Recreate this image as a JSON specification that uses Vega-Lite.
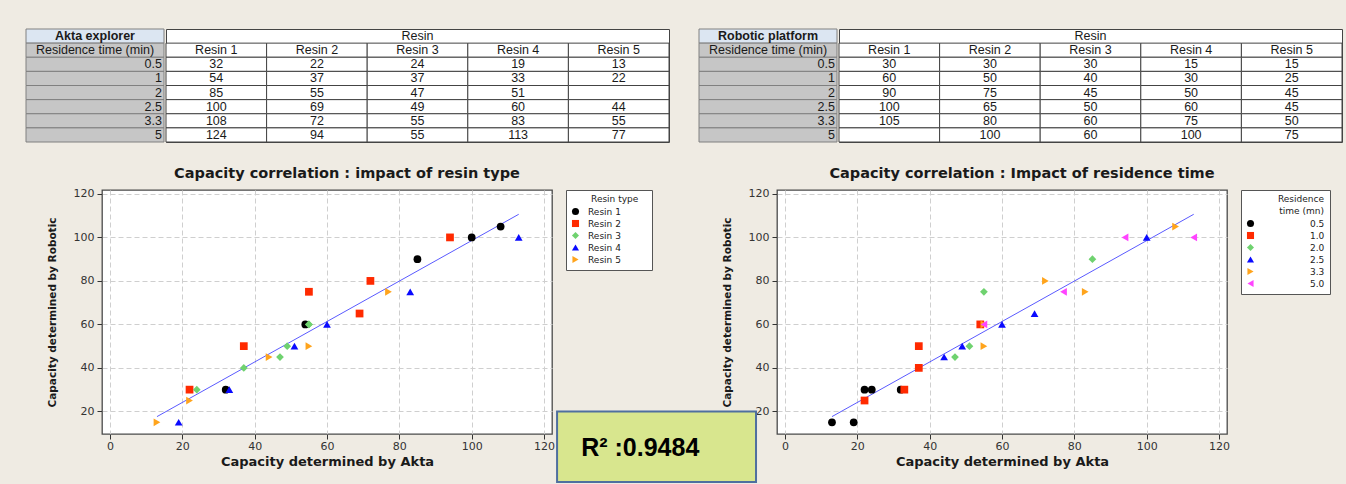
{
  "$schema": "https://vega.github.io/schema/vega-lite/v6.json",
  "background": "#efebe3",
  "padding": {"left": 25, "top": 28, "right": 5, "bottom": 2},
  "config": {
    "view": {"stroke": null},
    "font": "DejaVu Sans",
    "axis": {"labelFont": "DejaVu Sans", "labelFontSize": 11, "labelColor": "#333333", "tickColor": "#333333", "tickSize": 5, "domain": false, "gridColor": "#cfcfcf", "gridDash": [5, 3], "titleFont": "DejaVu Sans", "titleFontWeight": "bold", "titleColor": "#1a1a1a"},
    "axisX": {"titleFontSize": 13, "labelPadding": 1, "titlePadding": 4},
    "axisY": {"titleFontSize": 10.5, "labelPadding": 3, "titlePadding": 16},
    "legend": {"labelFont": "DejaVu Sans", "titleFont": "DejaVu Sans", "labelFontSize": 9, "titleFontSize": 9, "titleFontWeight": "normal", "fillColor": "white", "strokeColor": "#555555", "padding": 5, "offset": 14, "rowPadding": 2, "titlePadding": 3, "symbolSize": 50, "labelColor": "#222222", "titleColor": "#222222"},
    "text": {"font": "Liberation Sans", "fontSize": 12.5, "color": "#1a1a1a"}
  },
  "resolve": {"scale": {"color": "independent", "shape": "independent"}, "legend": {"color": "independent", "shape": "independent"}},
  "datasets": {
    "cap": [
      {"resin": "Resin 1", "rt": "0.5", "akta": 32, "robotic": 30},
      {"resin": "Resin 1", "rt": "1", "akta": 54, "robotic": 60},
      {"resin": "Resin 1", "rt": "2", "akta": 85, "robotic": 90},
      {"resin": "Resin 1", "rt": "2.5", "akta": 100, "robotic": 100},
      {"resin": "Resin 1", "rt": "3.3", "akta": 108, "robotic": 105},
      {"resin": "Resin 1", "rt": "5", "akta": 124, "robotic": null},
      {"resin": "Resin 2", "rt": "0.5", "akta": 22, "robotic": 30},
      {"resin": "Resin 2", "rt": "1", "akta": 37, "robotic": 50},
      {"resin": "Resin 2", "rt": "2", "akta": 55, "robotic": 75},
      {"resin": "Resin 2", "rt": "2.5", "akta": 69, "robotic": 65},
      {"resin": "Resin 2", "rt": "3.3", "akta": 72, "robotic": 80},
      {"resin": "Resin 2", "rt": "5", "akta": 94, "robotic": 100},
      {"resin": "Resin 3", "rt": "0.5", "akta": 24, "robotic": 30},
      {"resin": "Resin 3", "rt": "1", "akta": 37, "robotic": 40},
      {"resin": "Resin 3", "rt": "2", "akta": 47, "robotic": 45},
      {"resin": "Resin 3", "rt": "2.5", "akta": 49, "robotic": 50},
      {"resin": "Resin 3", "rt": "3.3", "akta": 55, "robotic": 60},
      {"resin": "Resin 3", "rt": "5", "akta": 55, "robotic": 60},
      {"resin": "Resin 4", "rt": "0.5", "akta": 19, "robotic": 15},
      {"resin": "Resin 4", "rt": "1", "akta": 33, "robotic": 30},
      {"resin": "Resin 4", "rt": "2", "akta": 51, "robotic": 50},
      {"resin": "Resin 4", "rt": "2.5", "akta": 60, "robotic": 60},
      {"resin": "Resin 4", "rt": "3.3", "akta": 83, "robotic": 75},
      {"resin": "Resin 4", "rt": "5", "akta": 113, "robotic": 100},
      {"resin": "Resin 5", "rt": "0.5", "akta": 13, "robotic": 15},
      {"resin": "Resin 5", "rt": "1", "akta": 22, "robotic": 25},
      {"resin": "Resin 5", "rt": "2", "akta": null, "robotic": 45},
      {"resin": "Resin 5", "rt": "2.5", "akta": 44, "robotic": 45},
      {"resin": "Resin 5", "rt": "3.3", "akta": 55, "robotic": 50},
      {"resin": "Resin 5", "rt": "5", "akta": 77, "robotic": 75}
    ]
  },
  "spacing": 22,
  "vconcat": [
    {
      "spacing": 28,
      "hconcat": [
        {
          "spacing": 0,
          "hconcat": [
            {
              "width": 138, "height": 113,
              "data": {"name": "cap"},
              "transform": [{"filter": "datum.resin == 'Resin 1'"}],
              "layer": [
                {"transform": [{"filter": "datum.rt == '0.5'"}], "mark": {"type": "rect", "fill": "#dce6f2", "stroke": "#808080", "strokeWidth": 1},
                 "encoding": {"x": {"datum": 0, "type": "quantitative", "scale": {"domain": [0, 1]}, "axis": null}, "x2": {"datum": 1}, "y": {"datum": "h1", "type": "nominal", "scale": {"type": "band", "domain": ["h1", "h2", "0.5", "1", "2", "2.5", "3.3", "5"], "paddingInner": 0, "paddingOuter": 0}, "axis": null}}},
                {"transform": [{"filter": "datum.rt == '0.5'"}], "mark": {"type": "rect", "fill": "#c6c6c6", "stroke": "#808080", "strokeWidth": 1},
                 "encoding": {"x": {"datum": 0, "type": "quantitative"}, "x2": {"datum": 1}, "y": {"datum": "h2", "type": "nominal"}}},
                {"mark": {"type": "rect", "fill": "#c6c6c6", "stroke": "#808080", "strokeWidth": 1},
                 "encoding": {"x": {"datum": 0, "type": "quantitative"}, "x2": {"datum": 1}, "y": {"field": "rt", "type": "nominal"}}},
                {"transform": [{"filter": "datum.rt == '0.5'"}], "mark": {"type": "text", "fontWeight": "bold"},
                 "encoding": {"x": {"datum": 0.5, "type": "quantitative"}, "y": {"datum": "h1", "type": "nominal"}, "text": {"value": "Akta explorer"}}},
                {"transform": [{"filter": "datum.rt == '0.5'"}], "mark": {"type": "text"},
                 "encoding": {"x": {"datum": 0.5, "type": "quantitative"}, "y": {"datum": "h2", "type": "nominal"}, "text": {"value": "Residence time (min)"}}},
                {"mark": {"type": "text", "align": "right", "dx": -2},
                 "encoding": {"x": {"datum": 1, "type": "quantitative"}, "y": {"field": "rt", "type": "nominal"}, "text": {"field": "rt"}}}
              ]
            },
            {
              "width": 503, "height": 113,
              "view": {"fill": "white", "stroke": "#444444"},
              "data": {"name": "cap"},
              "layer": [
                {"transform": [{"filter": "datum.rt == '0.5'"}], "mark": {"type": "rect", "fill": "white", "stroke": "#444444", "strokeWidth": 1},
                 "encoding": {"x": {"field": "resin", "type": "nominal", "scale": {"type": "band", "paddingInner": 0, "paddingOuter": 0}, "axis": null}, "y": {"datum": "h2", "type": "nominal", "scale": {"type": "band", "domain": ["h1", "h2", "0.5", "1", "2", "2.5", "3.3", "5"], "paddingInner": 0, "paddingOuter": 0}, "axis": null}}},
                {"mark": {"type": "rect", "fill": "white", "stroke": "#444444", "strokeWidth": 1},
                 "encoding": {"x": {"field": "resin", "type": "nominal"}, "y": {"field": "rt", "type": "nominal"}}},
                {"transform": [{"filter": "datum.rt == '0.5' && datum.resin == 'Resin 3'"}], "mark": {"type": "text"},
                 "encoding": {"x": {"field": "resin", "type": "nominal"}, "y": {"datum": "h1", "type": "nominal"}, "text": {"value": "Resin"}}},
                {"transform": [{"filter": "datum.rt == '0.5'"}], "mark": {"type": "text"},
                 "encoding": {"x": {"field": "resin", "type": "nominal"}, "y": {"datum": "h2", "type": "nominal"}, "text": {"field": "resin"}}},
                {"transform": [{"filter": "isValid(datum.akta)"}], "mark": {"type": "text"},
                 "encoding": {"x": {"field": "resin", "type": "nominal"}, "y": {"field": "rt", "type": "nominal"}, "text": {"field": "akta", "type": "quantitative"}}}
              ]
            }
          ]
        },
        {
          "spacing": 0,
          "hconcat": [
            {
              "width": 138, "height": 113,
              "data": {"name": "cap"},
              "transform": [{"filter": "datum.resin == 'Resin 1'"}],
              "layer": [
                {"transform": [{"filter": "datum.rt == '0.5'"}], "mark": {"type": "rect", "fill": "#dce6f2", "stroke": "#808080", "strokeWidth": 1},
                 "encoding": {"x": {"datum": 0, "type": "quantitative", "scale": {"domain": [0, 1]}, "axis": null}, "x2": {"datum": 1}, "y": {"datum": "h1", "type": "nominal", "scale": {"type": "band", "domain": ["h1", "h2", "0.5", "1", "2", "2.5", "3.3", "5"], "paddingInner": 0, "paddingOuter": 0}, "axis": null}}},
                {"transform": [{"filter": "datum.rt == '0.5'"}], "mark": {"type": "rect", "fill": "#c6c6c6", "stroke": "#808080", "strokeWidth": 1},
                 "encoding": {"x": {"datum": 0, "type": "quantitative"}, "x2": {"datum": 1}, "y": {"datum": "h2", "type": "nominal"}}},
                {"mark": {"type": "rect", "fill": "#c6c6c6", "stroke": "#808080", "strokeWidth": 1},
                 "encoding": {"x": {"datum": 0, "type": "quantitative"}, "x2": {"datum": 1}, "y": {"field": "rt", "type": "nominal"}}},
                {"transform": [{"filter": "datum.rt == '0.5'"}], "mark": {"type": "text", "fontWeight": "bold"},
                 "encoding": {"x": {"datum": 0.5, "type": "quantitative"}, "y": {"datum": "h1", "type": "nominal"}, "text": {"value": "Robotic platform"}}},
                {"transform": [{"filter": "datum.rt == '0.5'"}], "mark": {"type": "text"},
                 "encoding": {"x": {"datum": 0.5, "type": "quantitative"}, "y": {"datum": "h2", "type": "nominal"}, "text": {"value": "Residence time (min)"}}},
                {"mark": {"type": "text", "align": "right", "dx": -2},
                 "encoding": {"x": {"datum": 1, "type": "quantitative"}, "y": {"field": "rt", "type": "nominal"}, "text": {"field": "rt"}}}
              ]
            },
            {
              "width": 503, "height": 113,
              "view": {"fill": "white", "stroke": "#444444"},
              "data": {"name": "cap"},
              "layer": [
                {"transform": [{"filter": "datum.rt == '0.5'"}], "mark": {"type": "rect", "fill": "white", "stroke": "#444444", "strokeWidth": 1},
                 "encoding": {"x": {"field": "resin", "type": "nominal", "scale": {"type": "band", "paddingInner": 0, "paddingOuter": 0}, "axis": null}, "y": {"datum": "h2", "type": "nominal", "scale": {"type": "band", "domain": ["h1", "h2", "0.5", "1", "2", "2.5", "3.3", "5"], "paddingInner": 0, "paddingOuter": 0}, "axis": null}}},
                {"mark": {"type": "rect", "fill": "white", "stroke": "#444444", "strokeWidth": 1},
                 "encoding": {"x": {"field": "resin", "type": "nominal"}, "y": {"field": "rt", "type": "nominal"}}},
                {"transform": [{"filter": "datum.rt == '0.5' && datum.resin == 'Resin 3'"}], "mark": {"type": "text"},
                 "encoding": {"x": {"field": "resin", "type": "nominal"}, "y": {"datum": "h1", "type": "nominal"}, "text": {"value": "Resin"}}},
                {"transform": [{"filter": "datum.rt == '0.5'"}], "mark": {"type": "text"},
                 "encoding": {"x": {"field": "resin", "type": "nominal"}, "y": {"datum": "h2", "type": "nominal"}, "text": {"field": "resin"}}},
                {"transform": [{"filter": "isValid(datum.robotic)"}], "mark": {"type": "text"},
                 "encoding": {"x": {"field": "resin", "type": "nominal"}, "y": {"field": "rt", "type": "nominal"}, "text": {"field": "robotic", "type": "quantitative"}}}
              ]
            }
          ]
        }
      ]
    },
    {
      "spacing": 19,
      "resolve": {"scale": {"color": "independent", "shape": "independent"}, "legend": {"color": "independent", "shape": "independent"}},
      "hconcat": [
        {"width": 1, "height": 1, "data": {"values": []}, "mark": "rect", "encoding": {}},
        {
          "spacing": 225,
          "bounds": "flush",
          "resolve": {"scale": {"color": "independent", "shape": "independent"}, "legend": {"color": "independent", "shape": "independent"}},
          "hconcat": [
            {
              "width": 450, "height": 244,
              "view": {"fill": "white", "stroke": "#4a4a4a", "strokeWidth": 1.3},
              "title": {"text": "Capacity correlation : impact of resin type", "font": "DejaVu Sans", "fontSize": 14.5, "fontWeight": "bold", "color": "#1a1a1a", "offset": 6, "frame": "group", "anchor": "middle", "dx": 20},
              "data": {"name": "cap"},
              "layer": [
                {"transform": [{"filter": "isValid(datum.akta) && isValid(datum.robotic)"}, {"regression": "robotic", "on": "akta"}],
                 "mark": {"type": "line", "color": "#5a5aff", "strokeWidth": 1},
                 "encoding": {
                   "x": {"field": "akta", "type": "quantitative", "scale": {"domain": [-2.2, 122.2], "nice": false, "zero": false}, "axis": {"title": "Capacity determined by Akta", "values": [0, 20, 40, 60, 80, 100, 120], "grid": true}},
                   "y": {"field": "robotic", "type": "quantitative", "scale": {"domain": [9.6, 121.8], "nice": false, "zero": false}, "axis": {"title": "Capacity determined by Robotic", "values": [20, 40, 60, 80, 100, 120], "grid": true}}
                 }},
                {"transform": [{"filter": "isValid(datum.akta) && isValid(datum.robotic)"}],
                 "mark": {"type": "point", "filled": true, "size": 60, "opacity": 1},
                 "encoding": {
                   "x": {"field": "akta", "type": "quantitative"},
                   "y": {"field": "robotic", "type": "quantitative"},
                   "color": {"field": "resin", "type": "nominal", "scale": {"domain": ["Resin 1", "Resin 2", "Resin 3", "Resin 4", "Resin 5"], "range": ["#000000", "#ff2a00", "#6fd26f", "#0a0aff", "#ffa41c"]}, "legend": {"title": "\u200b\u00a0\u00a0\u00a0\u00a0\u00a0\u00a0\u00a0Resin type\u00a0\u00a0\u00a0\u200b", "labelOffset": 8}},
                   "shape": {"field": "resin", "type": "nominal", "scale": {"domain": ["Resin 1", "Resin 2", "Resin 3", "Resin 4", "Resin 5"], "range": ["circle", "square", "diamond", "triangle-up", "triangle-right"]}, "legend": {"title": "\u200b\u00a0\u00a0\u00a0\u00a0\u00a0\u00a0\u00a0Resin type\u00a0\u00a0\u00a0\u200b", "labelOffset": 8}}
                 }}
              ]
            },
            {
              "width": 450, "height": 244,
              "view": {"fill": "white", "stroke": "#4a4a4a", "strokeWidth": 1.3},
              "title": {"text": "Capacity correlation : Impact of residence time", "font": "DejaVu Sans", "fontSize": 14.5, "fontWeight": "bold", "color": "#1a1a1a", "offset": 6, "frame": "group", "anchor": "middle", "dx": 20},
              "layer": [
                {"data": {"name": "cap"},
                 "transform": [{"filter": "isValid(datum.akta) && isValid(datum.robotic)"}, {"regression": "robotic", "on": "akta"}],
                 "mark": {"type": "line", "color": "#5a5aff", "strokeWidth": 1},
                 "encoding": {
                   "x": {"field": "akta", "type": "quantitative", "scale": {"domain": [-2.2, 122.2], "nice": false, "zero": false}, "axis": {"title": "Capacity determined by Akta", "values": [0, 20, 40, 60, 80, 100, 120], "grid": true}},
                   "y": {"field": "robotic", "type": "quantitative", "scale": {"domain": [9.6, 121.8], "nice": false, "zero": false}, "axis": {"title": "Capacity determined by Robotic", "values": [20, 40, 60, 80, 100, 120], "grid": true}}
                 }},
                {"data": {"name": "cap"},
                 "transform": [{"filter": "isValid(datum.akta) && isValid(datum.robotic)"}],
                 "mark": {"type": "point", "filled": true, "size": 60, "opacity": 1},
                 "encoding": {
                   "x": {"field": "akta", "type": "quantitative"},
                   "y": {"field": "robotic", "type": "quantitative"},
                   "color": {"field": "rt", "type": "nominal", "scale": {"domain": ["0.5", "1", "2", "2.5", "3.3", "5"], "range": ["#000000", "#ff2a00", "#6fd26f", "#0a0aff", "#ffa41c", "#ff44ff"]}, "legend": {"title": ["Residence", "time (mn)"], "titleAnchor": "end", "titleAlign": "right", "titleLineHeight": 12, "labelOffset": 55, "labelExpr": "format(toNumber(datum.value), '.1f')"}},
                   "shape": {"field": "rt", "type": "nominal", "scale": {"domain": ["0.5", "1", "2", "2.5", "3.3", "5"], "range": ["circle", "square", "diamond", "triangle-up", "triangle-right", "triangle-left"]}, "legend": {"title": ["Residence", "time (mn)"], "titleAnchor": "end", "titleAlign": "right", "titleLineHeight": 12, "labelOffset": 55, "labelExpr": "format(toNumber(datum.value), '.1f')"}}
                 }},
                {"data": {"values": [{"label": "R² :0.9484"}]},
                 "mark": {"type": "rect", "fill": "#d8e68e", "stroke": "#4f6f9f", "strokeWidth": 2, "clip": false},
                 "encoding": {"x": {"datum": -63, "type": "quantitative"}, "x2": {"datum": -8}, "y": {"datum": 20, "type": "quantitative"}, "y2": {"datum": -12.5}}},
                {"data": {"values": [{"label": "R² :0.9484"}]},
                 "mark": {"type": "text", "font": "Liberation Sans", "fontSize": 25, "fontWeight": "bold", "color": "#000000", "clip": false},
                 "encoding": {"x": {"datum": -40, "type": "quantitative"}, "y": {"datum": 3, "type": "quantitative"}, "text": {"field": "label"}}}
              ]
            }
          ]
        }
      ]
    }
  ]
}
